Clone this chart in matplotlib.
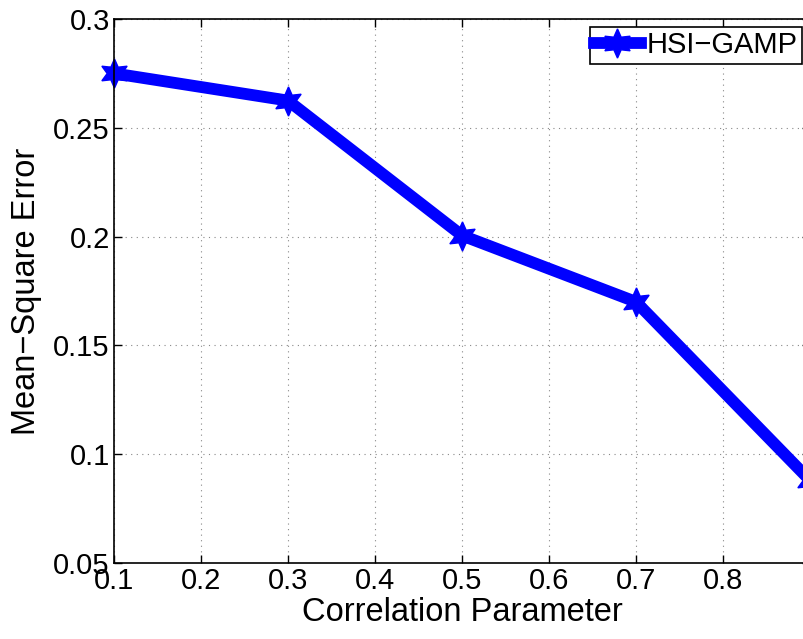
import matplotlib
matplotlib.use("Agg")
import matplotlib.pyplot as plt

corr = [0.1, 0.3, 0.5, 0.7, 0.9]
mse = [0.275, 0.2625, 0.2005, 0.170, 0.088]
xticks = [0.1, 0.2, 0.3, 0.4, 0.5, 0.6, 0.7, 0.8, 0.9]
xticklabels = ['0.1', '0.2', '0.3', '0.4', '0.5', '0.6', '0.7', '0.8', '']
yticks = [0.05, 0.1, 0.15, 0.2, 0.25, 0.3]
yticklabels = ['0.05', '0.1', '0.15', '0.2', '0.25', '0.3']

plt.rcParams['font.family'] = ['Liberation Sans', 'DejaVu Sans']

fig = plt.figure(figsize=(8.04, 6.39), dpi=100)
W, H = 804, 639
left, right, top, bottom = 114, 810, 19, 563
ax = fig.add_axes([left / W, 1 - bottom / H, (right - left) / W, (bottom - top) / H])

ax.plot(corr, mse, color='#0000ff', lw=8.5, marker=(6, 1, 0), markersize=21,
        label='HSI\u2212GAMP', clip_on=False, solid_joinstyle='miter')

ax.set_xlim(0.1, 0.9)
ax.set_ylim(0.05, 0.3)
ax.set_xticks(xticks)
ax.set_xticklabels(xticklabels)
ax.set_yticks(yticks)
ax.set_yticklabels(yticklabels)
ax.tick_params(direction='in', length=6, width=1, labelsize=21, top=True, right=True, pad=3)
ax.grid(True, linestyle=(0, (1, 4)), color='#888888', lw=0.8)
for s in ax.spines.values():
    s.set_linewidth(1.2)

ax.set_xlabel('Correlation Parameter', fontsize=23.5, labelpad=1)
ax.set_ylabel('Mean\u2212Square Error', fontsize=23.5, labelpad=8)

leg = ax.legend(loc='upper right', bbox_to_anchor=(802 / W, 1 - 27 / H), bbox_transform=fig.transFigure,
                fontsize=21, frameon=True, fancybox=False, framealpha=1, edgecolor='black',
                handlelength=1.6, handletextpad=0.2, borderpad=0.15, borderaxespad=0)
leg.get_frame().set_linewidth(1.2)

fig.savefig('out.png', dpi=100)
